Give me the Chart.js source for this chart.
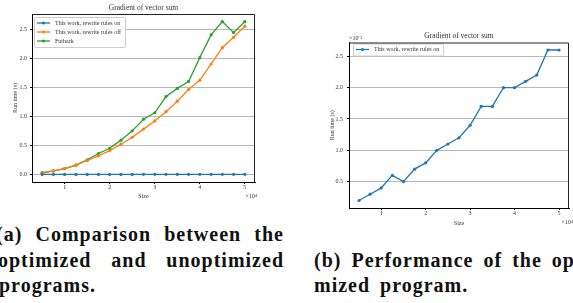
<!DOCTYPE html>
<html>
<head>
<meta charset="utf-8">
<script src="https://cdn.jsdelivr.net/npm/chart.js@4.4.0/dist/chart.umd.min.js"></script>
<style>
  html, body { margin: 0; padding: 0; background: #fff; }
  body { width: 573px; height: 303px; position: relative; overflow: hidden; }
  canvas { position: absolute; }
  #chartA { left: 0; top: 0; }
  #chartB { left: 300px; top: 0; }
  .cap {
    position: absolute;
    font-family: "Liberation Serif", serif;
    font-weight: bold;
    font-size: 20px;
    letter-spacing: 1px;
    line-height: 26px;
    color: #111;
  }
  .just { text-align: justify; text-align-last: justify; }
  .nw { white-space: nowrap; word-spacing: 4px; }
</style>
</head>
<body>
<canvas id="chartA" width="290" height="205"></canvas>
<canvas id="chartB" width="273" height="232"></canvas>

<div class="cap just" style="left:-4px; top:221px; width:288px;">(a) Comparison between the</div>
<div class="cap just" style="left:-2px; top:247px; width:286px;">optimized and unoptimized</div>
<div class="cap nw" style="left:-1px; top:272px;">programs.</div>
<div class="cap nw" style="left:314px; top:247px;">(b) Performance of the opti-</div>
<div class="cap nw" style="left:314px; top:272px;">mized program.</div>

<script>
// problem size, in units of 10^4
const sizes = [0.5, 0.75, 1, 1.25, 1.5, 1.75, 2, 2.25, 2.5, 2.75, 3, 3.25, 3.5, 3.75, 4, 4.25, 4.5, 4.75, 5];

// run time of the optimized program, in units of 10^-3 s
const rewriteOn = [0.2, 0.3, 0.4, 0.6, 0.5, 0.7, 0.8, 1.0, 1.1, 1.2, 1.4, 1.7, 1.7, 2.0, 2.0, 2.1, 2.2, 2.6, 2.6];
// run times in seconds
const rewriteOff = [0.02, 0.06, 0.10, 0.16, 0.24, 0.32, 0.41, 0.52, 0.64, 0.78, 0.92, 1.08, 1.26, 1.46, 1.62, 1.90, 2.18, 2.36, 2.55];
const futhark = [0.03, 0.06, 0.10, 0.16, 0.25, 0.36, 0.45, 0.59, 0.75, 0.95, 1.06, 1.34, 1.48, 1.60, 2.01, 2.40, 2.63, 2.44, 2.63];

const xTicks = [1, 2, 3, 4, 5];
const yTicksA = [0, 0.5, 1, 1.5, 2, 2.5];
const yTicksB = [0.5, 1, 1.5, 2, 2.5];

const BLUE = "#1f77b4";
const ORANGE = "#ff7f0e";
const GREEN = "#2ca02c";
const SERIF = "'Liberation Serif', serif";
const TXT = "#333";

function points(values, scale) {
  return sizes.map((s, i) => ({ x: s, y: values[i] * (scale || 1) }));
}

function series(label, values, color, scale) {
  return {
    label,
    data: points(values, scale),
    borderColor: color,
    backgroundColor: color,
    borderWidth: 1.3,
    pointRadius: 1.6,
    pointBorderWidth: 0,
    tension: 0,
  };
}

// legend box drawn inside the plot, top left
const innerLegend = {
  id: "innerLegend",
  afterDraw(chart, args, opts) {
    const ctx = chart.ctx;
    const area = chart.chartArea;
    const sets = chart.data.datasets;
    ctx.save();
    ctx.font = "6px " + SERIF;
    let w = 0;
    sets.forEach(d => { w = Math.max(w, ctx.measureText(d.label).width); });
    const bx = area.left + opts.dx;
    const by = area.top + opts.dy;
    const bw = w + 25;
    const bh = sets.length * 9 + 3;
    ctx.fillStyle = "rgba(255,255,255,0.85)";
    ctx.strokeStyle = "#cccccc";
    ctx.lineWidth = 1;
    ctx.beginPath();
    ctx.roundRect(bx + 0.5, by + 0.5, bw, bh, 1.5);
    ctx.fill();
    ctx.stroke();
    sets.forEach((d, i) => {
      const y = by + 6 + i * 9;
      ctx.strokeStyle = d.borderColor;
      ctx.lineWidth = 1.3;
      ctx.beginPath();
      ctx.moveTo(bx + 3, y);
      ctx.lineTo(bx + 16, y);
      ctx.stroke();
      ctx.fillStyle = d.borderColor;
      ctx.beginPath();
      ctx.arc(bx + 9.5, y, 1.6, 0, Math.PI * 2);
      ctx.fill();
      ctx.fillStyle = TXT;
      ctx.textBaseline = "middle";
      ctx.fillText(d.label, bx + 21, y);
    });
    ctx.restore();
  }
};

// top and right spines plus the axis offset labels
const frame = {
  id: "frame",
  afterDraw(chart, args, opts) {
    const ctx = chart.ctx;
    const a = chart.chartArea;
    ctx.save();
    ctx.strokeStyle = "#222";
    ctx.lineWidth = 1;
    ctx.beginPath();
    ctx.moveTo(a.left, a.top + 0.5);
    ctx.lineTo(a.right - 0.5, a.top + 0.5);
    ctx.lineTo(a.right - 0.5, a.bottom);
    ctx.stroke();
    ctx.fillStyle = TXT;
    ctx.font = "6px " + SERIF;
    ctx.textBaseline = "middle";
    ctx.textAlign = "right";
    ctx.fillText("×10⁴", opts.xOffX, opts.xOffY);
    if (opts.yOff) {
      ctx.textAlign = "left";
      ctx.fillText(opts.yOff, a.left, a.top - 4);
    }
    ctx.restore();
  }
};

function scales(o) {
  const font = { family: SERIF, size: 6 };
  return {
    x: {
      type: "linear",
      min: 0.275,
      max: 5.225,
      afterBuildTicks: s => { s.ticks = xTicks.map(v => ({ value: v })); },
      afterFit: s => { s.height = o.xh; },
      grid: { drawOnChartArea: false, tickLength: 2, tickColor: "#000", color: "#000" },
      border: { color: "#000", width: 1 },
      ticks: { font, color: TXT, padding: 0, maxRotation: 0, callback: v => String(v) },
      title: { display: true, text: "Size", font, color: TXT, padding: { top: 0, bottom: 5.4 } },
    },
    y: {
      min: o.ymin,
      max: o.ymax,
      afterBuildTicks: s => { s.ticks = o.yTicks.map(v => ({ value: v })); },
      afterFit: s => { s.width = o.yw; },
      grid: { color: "#b8b8b8", lineWidth: 1, tickLength: 2, tickColor: "#000" },
      border: { color: "#000", width: 1 },
      ticks: { font, color: TXT, padding: o.ypad, callback: v => v.toFixed(1) },
      title: { display: true, text: "Run time (s)", font, color: TXT, padding: { top: o.ytp, bottom: 0 } },
    },
  };
}

function titleOpts(pt, pb) {
  return {
    display: true,
    text: "Gradient of vector sum",
    fullSize: false,
    color: TXT,
    font: { family: SERIF, size: 7.5, weight: "normal", lineHeight: 1.2 },
    padding: { top: pt, bottom: pb },
  };
}

new Chart(document.getElementById("chartA"), {
  type: "line",
  data: {
    datasets: [
      series("This work, rewrite rules on", rewriteOn, BLUE, 0.001),
      series("This work, rewrite rules off", rewriteOff, ORANGE),
      series("Futhark", futhark, GREEN),
    ],
  },
  options: {
    responsive: false,
    animation: false,
    layout: { padding: { left: 0, right: 35, top: 0, bottom: 0 } },
    scales: scales({ xh: 23, yw: 32, ymin: -0.13, ymax: 2.76, yTicks: yTicksA, ypad: 3, ytp: 11.4 }),
    plugins: {
      legend: { display: false },
      tooltip: { enabled: false },
      title: titleOpts(3.5, 1.5),
      innerLegend: { dx: 2, dy: 3 },
      frame: { xOffX: 257, xOffY: 196 },
    },
  },
  plugins: [innerLegend, frame],
});

new Chart(document.getElementById("chartB"), {
  type: "line",
  data: {
    datasets: [
      series("This work, rewrite rules on", rewriteOn, BLUE),
    ],
  },
  options: {
    responsive: false,
    animation: false,
    layout: { padding: { left: 0, right: 0, top: 0, bottom: 0 } },
    scales: scales({ xh: 24, yw: 49, ymin: 0.08, ymax: 2.72, yTicks: yTicksB, ypad: 4, ytp: 28.4 }),
    plugins: {
      legend: { display: false },
      tooltip: { enabled: false },
      title: titleOpts(31.5, 2),
      innerLegend: { dx: 4, dy: 1 },
      frame: { xOffX: 273, xOffY: 222, yOff: "×10⁻³" },
    },
  },
  plugins: [innerLegend, frame],
});
</script>
</body>
</html>
